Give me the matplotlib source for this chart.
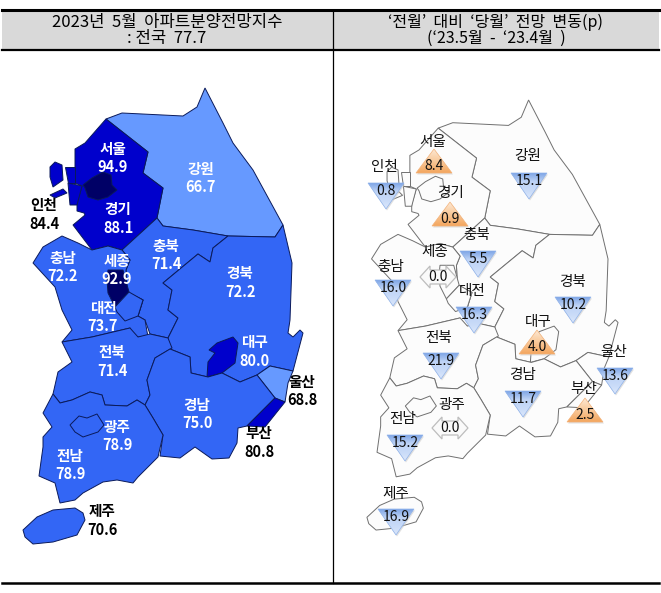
import numpy as np
import matplotlib
matplotlib.use('Agg')
import matplotlib.pyplot as plt
from matplotlib.patches import Polygon, Rectangle
from matplotlib.colors import LinearSegmentedColormap

plt.rcParams['font.family'] = ['Noto Sans CJK KR', 'DejaVu Sans']

# region data
regions = ['서울', '인천', '경기', '강원', '충북', '세종', '충남', '대전', '경북',
           '대구', '전북', '울산', '경남', '부산', '광주', '전남', '제주']
index_values = ['94.9', '84.4', '88.1', '66.7', '71.4', '92.9', '72.2', '73.7', '72.2',
                '80.0', '71.4', '68.8', '75.0', '80.8', '78.9', '78.9', '70.6']
change_values = ['8.4', '0.8', '0.9', '15.1', '5.5', '0.0', '16.0', '16.3', '10.2',
                 '4.0', '21.9', '13.6', '11.7', '2.5', '0.0', '15.2', '16.9']
change_dirs = ['up', 'down', 'up', 'down', 'down', 'flat', 'down', 'down', 'down',
               'up', 'down', 'down', 'down', 'up', 'flat', 'down', 'down']

# map outlines, picture pixels of the left map
gangwon = [(106, 119), (122, 113), (183, 116), (197, 107), (205, 88), (223, 123), (233, 143), (253, 170),
           (283, 225), (275, 237), (228, 236), (193, 230), (163, 226), (157, 218), (163, 188), (143, 173),
           (148, 152)]
gyeonggi = [(106, 119), (148, 152), (143, 173), (163, 188), (157, 218), (122, 250), (108, 246), (92, 250),
            (73, 225), (85, 215), (84, 213), (77, 211), (77, 203), (82, 186), (75, 183), (75, 149), (85, 143)]
incheon_a = [(65, 167), (75, 167), (75, 183), (68, 183)]
incheon_b = [(68, 183), (82, 186), (77, 205), (70, 205)]
island_a = [(50, 167), (55, 162), (62, 165), (63, 180), (53, 187), (50, 177)]
island_b = [(50, 195), (63, 189), (67, 193), (55, 198)]
seoul = [(83, 185), (92, 178), (103, 172), (111, 175), (112, 185), (117, 190), (108, 197), (98, 200),
         (88, 197), (85, 188)]
chungbuk = [(157, 218), (163, 226), (193, 230), (228, 236), (213, 248), (210, 262), (198, 254), (163, 283),
            (172, 290), (168, 310), (178, 318), (168, 338), (150, 334), (145, 320), (138, 316), (143, 300),
            (127, 292), (126, 270), (130, 260), (122, 250)]
chungnam = [(33, 263), (43, 247), (62, 236), (78, 243), (92, 250), (108, 246), (122, 250), (130, 260),
            (126, 270), (127, 292), (143, 300), (138, 316), (145, 320), (148, 337), (135, 337), (130, 328),
            (92, 337), (62, 342), (72, 330), (62, 310), (55, 287)]
sejong = [(108, 270), (123, 270), (129, 292), (115, 307), (108, 293), (107, 280)]
daejeon = [(129, 292), (143, 300), (138, 316), (125, 321), (117, 312), (115, 307)]
gyeongbuk = [(228, 236), (275, 237), (283, 225), (292, 263), (290, 320), (288, 333), (293, 337), (300, 330),
             (303, 333), (293, 371), (270, 366), (257, 375), (240, 382), (222, 373), (208, 377), (191, 373),
             (190, 357), (170, 349), (168, 338), (178, 318), (168, 310), (172, 290), (163, 283), (198, 254),
             (210, 262), (213, 248)]
daegu = [(207, 377), (208, 362), (215, 353), (209, 350), (217, 343), (233, 337), (238, 343), (235, 363),
         (222, 373)]
jeonbuk = [(62, 342), (92, 337), (130, 328), (138, 337), (150, 334), (168, 338), (172, 348), (155, 358),
           (147, 380), (150, 395), (145, 405), (137, 400), (127, 406), (105, 405), (102, 395), (90, 392),
           (72, 400), (60, 403), (53, 394), (58, 372), (72, 362)]
ulsan = [(257, 375), (270, 366), (293, 371), (288, 383), (285, 402), (275, 398)]
gyeongnam = [(155, 358), (170, 349), (190, 357), (191, 373), (208, 377), (222, 373), (240, 382), (257, 375),
             (275, 398), (247, 426), (238, 428), (237, 443), (229, 458), (212, 459), (195, 447), (180, 458),
             (160, 456), (163, 435), (153, 418), (145, 405), (150, 395), (147, 380)]
busan = [(275, 398), (285, 402), (265, 427), (247, 426)]
jeonnam = [(53, 394), (60, 403), (72, 400), (90, 392), (102, 395), (105, 405), (127, 406), (137, 400),
           (145, 405), (153, 418), (163, 435), (158, 457), (138, 477), (133, 483), (117, 480), (103, 482),
           (83, 493), (75, 500), (60, 503), (55, 483), (39, 476), (43, 447), (43, 437), (52, 427), (43, 413)]
gwangju = [(70, 425), (79, 416), (87, 418), (97, 414), (104, 425), (98, 432), (83, 437), (75, 432)]
jeju = [(23, 530), (37, 517), (53, 510), (75, 508), (83, 513), (85, 520), (77, 535), (53, 542), (33, 544),
        (25, 537)]

LIGHT = '#6699ff'
MID = '#3366f5'
DARK = '#0000cc'
NAVY = '#000066'
map_shapes = [(gangwon, LIGHT), (gyeonggi, DARK), (incheon_a, DARK), (incheon_b, DARK), (island_a, DARK),
              (island_b, DARK), (seoul, NAVY), (chungbuk, MID), (chungnam, MID), (sejong, NAVY), (daejeon, MID),
              (gyeongbuk, MID), (daegu, DARK), (jeonbuk, MID), (ulsan, LIGHT), (gyeongnam, MID), (busan, DARK),
              (jeonnam, MID), (gwangju, MID), (jeju, MID)]

# label positions on the left map (name centre, value centre)
left_names = [(113, 149), (44, 205), (118, 209), (201, 169), (166, 246), (117, 261), (63, 258), (103, 308),
              (240, 273), (254, 342), (112, 352), (302, 382), (197, 405), (259, 433), (117, 427), (70, 456),
              (102, 511)]
left_vals = [(113, 167), (44, 224), (118, 228), (201, 187), (166, 264), (117, 279), (63, 276), (103, 326),
             (240, 292), (254, 361), (112, 371), (302, 400), (197, 423), (259, 452), (117, 445), (70, 474),
             (102, 530)]
black_labels = ['인천', '울산', '부산', '제주']

# label and marker positions on the right map
right_names = [(433, 142), (384, 167), (450, 193), (528, 156), (477, 235), (435, 252), (391, 267), (472, 291),
               (572, 282), (538, 322), (439, 338), (614, 352), (523, 375), (584, 389), (452, 405), (403, 419),
               (396, 494)]
right_marks = [(434, 173), (386, 183), (450, 226), (529, 173), (478, 251), (438, 277), (393, 280), (474, 307),
               (573, 297), (537, 354), (441, 353), (615, 368), (523, 391), (585, 422), (450, 428), (405, 435),
               (396, 509)]

blue_tri = LinearSegmentedColormap.from_list('b', ['#7fa6e6', '#bfd4f6', '#c9dbf8', '#dbe7fb'])
orange_tri = LinearSegmentedColormap.from_list('o', ['#fde8d3', '#f9c99a', '#f3a65e'])
grad = np.linspace(0, 1, 64).reshape(-1, 1)


def to_right(points, island=False):
    pts = np.array(points, dtype=float)
    if island:
        return np.c_[346 + 0.91 * pts[:, 0], 35 + 0.91 * pts[:, 1]]
    return np.c_[341.4 + 0.913 * pts[:, 0], 20.1 + 0.908 * pts[:, 1]]


def gradient_poly(ax, pts, cmap, edge):
    xs = [p[0] for p in pts]
    ys = [p[1] for p in pts]
    # light shadow first
    ax.add_patch(Polygon([(x + 1, y + 1.5) for x, y in pts], fc='#cccccc', ec='none', alpha=0.6, zorder=4))
    im = ax.imshow(grad, cmap=cmap, extent=(min(xs), max(xs), max(ys), min(ys)), aspect='auto', zorder=5)
    clip = Polygon(pts, transform=ax.transData, fc='none', ec='none')
    ax.add_patch(clip)
    im.set_clip_path(clip)
    ax.add_patch(Polygon(pts, fc='none', ec=edge, lw=0.5, zorder=6))


fig = plt.figure(figsize=(6.61, 5.93), dpi=100)
ax = fig.add_axes([0, 0, 1, 1])

# header band and table lines
ax.add_patch(Rectangle((2, 10), 657, 40, fc='#d9d9d9', ec='none', zorder=0))
ax.plot([2, 659], [9.5, 9.5], color='black', lw=2.2, zorder=1)
ax.plot([2, 659], [50, 50], color='black', lw=1.6, zorder=1)
ax.plot([2, 659], [583, 583], color='black', lw=1.8, zorder=1)
ax.plot([333, 333], [10, 583], color='black', lw=0.9, zorder=1)

ax.text(167, 22, '2023년  5월  아파트분양전망지수', fontsize=12, ha='center', va='center')
ax.text(167, 38, ': 전국  77.7', fontsize=12, ha='center', va='center', fontweight='medium')
ax.text(496, 22, '‘전월’  대비  ‘당월’  전망  변동(p)', fontsize=11.5, ha='center', va='center', fontweight='medium')
ax.text(496, 38, '(‘23.5월  -  ‘23.4월  )', fontsize=11.5, ha='center', va='center', fontweight='medium')

# left map
for shape, col in map_shapes:
    ax.add_patch(Polygon(shape, fc=col, ec='#0a1a5a', lw=0.7, zorder=2))

for name, val, np_, vp in zip(regions, index_values, left_names, left_vals):
    col = 'black' if name in black_labels else 'white'
    ax.text(np_[0], np_[1], name, color=col, fontsize=10.5, fontweight='bold', ha='center', va='center', zorder=8)
    ax.text(vp[0], vp[1], val, color=col, fontsize=10.5, fontweight='bold', ha='center', va='center', zorder=8)

# right map
for shape, col in map_shapes:
    pts = to_right(shape, island=shape is jeju)
    ax.add_patch(Polygon(pts, fc='#fcfcfc', ec='#707070', lw=0.7, zorder=2))

for name, val, d, np_, mp in zip(regions, change_values, change_dirs, right_names, right_marks):
    x, y = mp
    if d == 'down':
        gradient_poly(ax, [(x - 18, y), (x + 18, y), (x, y + 26)], blue_tri, '#8fb2ea')
        ty = y + 8
    elif d == 'up':
        gradient_poly(ax, [(x, y - 24), (x + 18, y), (x - 18, y)], orange_tri, '#f3b27a')
        ty = y - 7
    else:
        arrow = [(x - 18, y), (x - 8, y - 11), (x - 8, y - 7), (x + 8, y - 7), (x + 8, y - 11), (x + 18, y),
                 (x + 8, y + 11), (x + 8, y + 7), (x - 8, y + 7), (x - 8, y + 11)]
        ax.add_patch(Polygon(arrow, fc='#fafafa', ec='#bdbdbd', lw=0.9, zorder=5))
        ty = y
    ax.text(np_[0], np_[1], name, color='#111111', fontsize=10.5, fontweight='medium', ha='center', va='center', zorder=8)
    ax.text(x, ty, val, color='#111111', fontsize=10, fontweight='medium', ha='center', va='center', zorder=8)

ax.set_xlim(0, 661)
ax.set_ylim(593, 0)
ax.axis('off')

fig.savefig('out.png', dpi=100, facecolor='white')
